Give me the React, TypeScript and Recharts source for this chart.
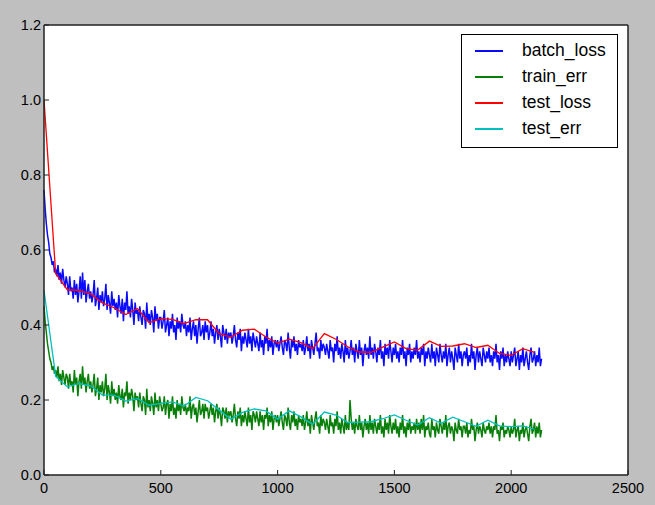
import React from "react";
import { LineChart, Line, XAxis, YAxis, CartesianGrid } from "recharts";

// noisy series are logged every 5 iterations, test series every 50
const batchStep = 5;
const testStep = 50;

const batchLoss = [
  0.76, 0.71, 0.67, 0.64, 0.62, 0.59, 0.58, 0.56, 0.57, 0.54, 0.55, 0.53, 0.56, 0.52, 0.54, 0.51, 0.55, 0.52, 0.5, 0.53,
  0.51, 0.48, 0.53, 0.49, 0.5, 0.47, 0.52, 0.48, 0.51, 0.46, 0.49, 0.53, 0.47, 0.54, 0.48, 0.52, 0.46, 0.49, 0.51, 0.47,
  0.49, 0.46, 0.48, 0.52, 0.45, 0.47, 0.5, 0.44, 0.48, 0.46, 0.49, 0.45, 0.47, 0.51, 0.44, 0.48, 0.46, 0.43, 0.49, 0.45,
  0.47, 0.44, 0.46, 0.42, 0.48, 0.45, 0.43, 0.47, 0.41, 0.46, 0.44, 0.49, 0.43, 0.45, 0.42, 0.47, 0.44, 0.4, 0.46, 0.43,
  0.44, 0.41, 0.45, 0.42, 0.4, 0.44, 0.43, 0.39, 0.46, 0.41, 0.43, 0.4, 0.44, 0.42, 0.38, 0.45, 0.41, 0.43, 0.39, 0.42,
  0.42, 0.39, 0.41, 0.44, 0.38, 0.4, 0.42, 0.37, 0.41, 0.39, 0.43, 0.38, 0.4, 0.36, 0.42, 0.39, 0.41, 0.38, 0.43, 0.4,
  0.39, 0.41, 0.37, 0.4, 0.38, 0.42, 0.36, 0.39, 0.41, 0.37, 0.4, 0.35, 0.39, 0.42, 0.37, 0.38, 0.4, 0.36, 0.41, 0.38,
  0.4, 0.36, 0.38, 0.41, 0.37, 0.39, 0.35, 0.38, 0.4, 0.36, 0.39, 0.37, 0.34, 0.4, 0.38, 0.36, 0.39, 0.35, 0.38, 0.37,
  0.38, 0.35, 0.37, 0.4, 0.36, 0.34, 0.38, 0.36, 0.39, 0.33, 0.37, 0.35, 0.38, 0.36, 0.34, 0.39, 0.35, 0.37, 0.33, 0.38,
  0.36, 0.34, 0.37, 0.35, 0.33, 0.38, 0.34, 0.36, 0.32, 0.37, 0.35, 0.39, 0.33, 0.36, 0.34, 0.37, 0.32, 0.35, 0.36, 0.34,
  0.36, 0.33, 0.35, 0.37, 0.34, 0.32, 0.36, 0.35, 0.33, 0.38, 0.34, 0.31, 0.36, 0.34, 0.37, 0.33, 0.35, 0.32, 0.36, 0.34,
  0.35, 0.33, 0.36, 0.32, 0.34, 0.37, 0.33, 0.35, 0.31, 0.36, 0.34, 0.32, 0.35, 0.38, 0.33, 0.34, 0.31, 0.36, 0.33, 0.35,
  0.34, 0.32, 0.35, 0.33, 0.31, 0.36, 0.33, 0.34, 0.3, 0.35, 0.33, 0.37, 0.32, 0.34, 0.31, 0.35, 0.33, 0.3, 0.36, 0.32,
  0.34, 0.31, 0.33, 0.36, 0.32, 0.34, 0.3, 0.35, 0.33, 0.31, 0.36, 0.32, 0.34, 0.29, 0.33, 0.35, 0.32, 0.34, 0.31, 0.37,
  0.32, 0.34, 0.31, 0.35, 0.33, 0.3, 0.34, 0.32, 0.36, 0.31, 0.33, 0.29, 0.35, 0.32, 0.34, 0.31, 0.36, 0.33, 0.3, 0.34,
  0.32, 0.35, 0.31, 0.33, 0.3, 0.34, 0.32, 0.36, 0.31, 0.33, 0.29, 0.34, 0.32, 0.35, 0.3, 0.33, 0.31, 0.34, 0.32, 0.36,
  0.31, 0.33, 0.3, 0.34, 0.32, 0.35, 0.29, 0.33, 0.31, 0.34, 0.32, 0.3, 0.35, 0.31, 0.33, 0.29, 0.34, 0.32, 0.3, 0.35,
  0.32, 0.3, 0.33, 0.31, 0.35, 0.29, 0.32, 0.34, 0.3, 0.33, 0.31, 0.28, 0.34, 0.32, 0.3, 0.35, 0.31, 0.33, 0.29, 0.32,
  0.33, 0.31, 0.34, 0.29, 0.32, 0.3, 0.35, 0.31, 0.33, 0.28, 0.32, 0.34, 0.3, 0.33, 0.31, 0.29, 0.34, 0.32, 0.3, 0.33,
  0.31, 0.34, 0.3, 0.32, 0.29, 0.33, 0.31, 0.35, 0.3, 0.32, 0.28, 0.33, 0.31, 0.34, 0.29, 0.32, 0.3, 0.33, 0.31, 0.29,
  0.33, 0.3, 0.32, 0.34, 0.29, 0.31, 0.33, 0.28, 0.32, 0.3, 0.34, 0.29, 0.31, 0.33, 0.3, 0.28, 0.32, 0.34, 0.3, 0.31,
  0.33, 0.29, 0.32, 0.3, 0.34, 0.29, 0.31,
];

const trainErr = [
  0.45, 0.41, 0.38, 0.35, 0.33, 0.31, 0.3, 0.28, 0.29, 0.27, 0.28, 0.26, 0.29, 0.25, 0.27, 0.24, 0.28, 0.26, 0.24, 0.27,
  0.26, 0.23, 0.27, 0.24, 0.25, 0.22, 0.28, 0.24, 0.26, 0.21, 0.25, 0.27, 0.23, 0.29, 0.24, 0.26, 0.22, 0.25, 0.27, 0.23,
  0.25, 0.22, 0.24, 0.27, 0.21, 0.23, 0.26, 0.2, 0.24, 0.22, 0.25, 0.21, 0.23, 0.27, 0.2, 0.24, 0.22, 0.19, 0.25, 0.21,
  0.23, 0.2, 0.22, 0.19, 0.24, 0.21, 0.2, 0.23, 0.18, 0.22, 0.21, 0.25, 0.19, 0.22, 0.2, 0.23, 0.21, 0.17, 0.22, 0.2,
  0.21, 0.18, 0.22, 0.19, 0.17, 0.21, 0.2, 0.16, 0.23, 0.18, 0.2, 0.17, 0.21, 0.19, 0.16, 0.22, 0.18, 0.2, 0.17, 0.21,
  0.19, 0.17, 0.18, 0.21, 0.16, 0.19, 0.2, 0.15, 0.19, 0.17, 0.21, 0.16, 0.18, 0.15, 0.2, 0.17, 0.19, 0.16, 0.21, 0.18,
  0.17, 0.19, 0.16, 0.18, 0.17, 0.21, 0.15, 0.18, 0.19, 0.16, 0.18, 0.14, 0.17, 0.2, 0.16, 0.17, 0.19, 0.15, 0.19, 0.17,
  0.18, 0.15, 0.17, 0.19, 0.16, 0.18, 0.14, 0.17, 0.19, 0.15, 0.18, 0.16, 0.13, 0.18, 0.17, 0.15, 0.18, 0.14, 0.17, 0.16,
  0.17, 0.14, 0.16, 0.19, 0.15, 0.13, 0.17, 0.15, 0.18, 0.13, 0.16, 0.14, 0.17, 0.15, 0.13, 0.18, 0.14, 0.16, 0.12, 0.17,
  0.16, 0.14, 0.17, 0.15, 0.13, 0.17, 0.14, 0.16, 0.12, 0.16, 0.15, 0.18, 0.13, 0.16, 0.14, 0.17, 0.12, 0.15, 0.16, 0.14,
  0.16, 0.13, 0.15, 0.17, 0.14, 0.12, 0.16, 0.15, 0.13, 0.18, 0.14, 0.12, 0.16, 0.14, 0.17, 0.13, 0.15, 0.12, 0.16, 0.14,
  0.15, 0.13, 0.16, 0.12, 0.14, 0.17, 0.13, 0.15, 0.11, 0.16, 0.14, 0.12, 0.15, 0.17, 0.13, 0.14, 0.11, 0.16, 0.13, 0.15,
  0.14, 0.12, 0.15, 0.13, 0.11, 0.16, 0.13, 0.14, 0.11, 0.15, 0.13, 0.17, 0.12, 0.14, 0.11, 0.15, 0.13, 0.11, 0.16, 0.12,
  0.14, 0.12, 0.2, 0.15, 0.12, 0.14, 0.11, 0.15, 0.13, 0.12, 0.16, 0.12, 0.14, 0.1, 0.13, 0.15, 0.12, 0.14, 0.11, 0.16,
  0.12, 0.14, 0.11, 0.15, 0.13, 0.11, 0.14, 0.12, 0.16, 0.11, 0.13, 0.1, 0.15, 0.12, 0.14, 0.11, 0.16, 0.13, 0.11, 0.14,
  0.12, 0.15, 0.11, 0.13, 0.1, 0.14, 0.12, 0.16, 0.11, 0.13, 0.1, 0.14, 0.12, 0.15, 0.11, 0.13, 0.12, 0.14, 0.11, 0.15,
  0.12, 0.14, 0.11, 0.15, 0.12, 0.16, 0.1, 0.13, 0.12, 0.14, 0.11, 0.1, 0.15, 0.12, 0.13, 0.1, 0.14, 0.12, 0.11, 0.15,
  0.13, 0.11, 0.14, 0.12, 0.16, 0.1, 0.13, 0.14, 0.11, 0.13, 0.12, 0.09, 0.14, 0.12, 0.11, 0.15, 0.12, 0.13, 0.1, 0.13,
  0.13, 0.11, 0.14, 0.1, 0.12, 0.11, 0.15, 0.12, 0.13, 0.09, 0.12, 0.14, 0.11, 0.13, 0.12, 0.1, 0.14, 0.12, 0.11, 0.13,
  0.12, 0.14, 0.11, 0.13, 0.1, 0.13, 0.12, 0.16, 0.11, 0.12, 0.09, 0.13, 0.12, 0.14, 0.1, 0.12, 0.11, 0.13, 0.12, 0.1,
  0.13, 0.11, 0.12, 0.15, 0.1, 0.12, 0.13, 0.09, 0.12, 0.11, 0.14, 0.1, 0.12, 0.13, 0.11, 0.09, 0.13, 0.15, 0.11, 0.12,
  0.14, 0.1, 0.13, 0.11, 0.14, 0.1, 0.12,
];

const testLoss = [
  1.0, 0.537, 0.494, 0.492, 0.483, 0.459, 0.446, 0.428, 0.444, 0.406,
  0.417, 0.415, 0.404, 0.414, 0.414, 0.377, 0.368, 0.386, 0.389, 0.368,
  0.352, 0.362, 0.353, 0.337, 0.377, 0.362, 0.342, 0.328, 0.327, 0.341,
  0.355, 0.337, 0.333, 0.357, 0.343, 0.344, 0.35, 0.34, 0.346, 0.324,
  0.319, 0.337, 0.327,
];

const testErr = [
  0.492, 0.263, 0.235, 0.244, 0.238, 0.213, 0.213, 0.197, 0.204, 0.186,
  0.191, 0.195, 0.184, 0.207, 0.198, 0.173, 0.149, 0.167, 0.176, 0.171,
  0.149, 0.171, 0.155, 0.135, 0.168, 0.16, 0.14, 0.141, 0.142, 0.15,
  0.16, 0.146, 0.133, 0.153, 0.138, 0.154, 0.142, 0.13, 0.146, 0.131,
  0.129, 0.131, 0.122,
];

const xTicks = [0, 500, 1000, 1500, 2000, 2500];
const yTicks = [0, 0.2, 0.4, 0.6, 0.8, 1.0, 1.2];

const toPoints = (vals: number[], step: number) =>
  vals.map((y, i) => ({ x: i * step, y }));

const series = [
  { name: "batch_loss", color: "#0a0aff", width: 1.5, data: toPoints(batchLoss, batchStep) },
  { name: "train_err", color: "#087f08", width: 1.5, data: toPoints(trainErr, batchStep) },
  { name: "test_loss", color: "#ff0000", width: 1.3, data: toPoints(testLoss, testStep) },
  { name: "test_err", color: "#00bfbf", width: 1.3, data: toPoints(testErr, testStep) },
];

const FONT = "'Liberation Sans', Arial, Helvetica, sans-serif";
const AXIS = "#222";

function BottomTick({ x, y, payload }: any) {
  return (
    <g>
      <line x1={x} y1={y} x2={x} y2={y - 5} stroke={AXIS} strokeWidth={1} />
      <text x={x} y={y + 18} textAnchor="middle" fontSize={14.5} fontFamily={FONT} fill="#000">
        {payload.value}
      </text>
    </g>
  );
}

function LeftTick({ x, y, payload }: any) {
  return (
    <g>
      <line x1={x} y1={y} x2={x + 5} y2={y} stroke={AXIS} strokeWidth={1} />
      <text x={x - 3} y={y + 5} textAnchor="end" fontSize={14.5} fontFamily={FONT} fill="#000">
        {Number(payload.value).toFixed(1)}
      </text>
    </g>
  );
}

function TopTick({ x, y }: any) {
  return <line x1={x} y1={y} x2={x} y2={y + 5} stroke={AXIS} strokeWidth={1} />;
}

function RightTick({ x, y }: any) {
  return <line x1={x} y1={y} x2={x - 5} y2={y} stroke={AXIS} strokeWidth={1} />;
}

function LegendBox() {
  return (
    <div
      style={{
        position: "absolute",
        left: 461,
        top: 34,
        width: 155,
        height: 112,
        border: "1px solid #000",
        background: "#fff",
        fontFamily: FONT,
        fontSize: 17.5,
      }}
    >
      {series.map((s, i) => (
        <div
          key={s.name}
          style={{ position: "absolute", left: 0, top: 4 + i * 26, height: 24, width: 155 }}
        >
          <div
            style={{
              position: "absolute",
              left: 13,
              top: 11,
              width: 28,
              height: 1.5,
              background: s.color,
            }}
          />
          <div style={{ position: "absolute", left: 60, top: 1, lineHeight: "20px" }}>{s.name}</div>
        </div>
      ))}
    </div>
  );
}

export default function App() {
  return (
    <div
      style={{
        position: "absolute",
        left: 0,
        top: 0,
        width: 655,
        height: 505,
        background: "#bfbfbf",
      }}
    >
      <LineChart width={655} height={505} margin={{ top: 0, right: 0, bottom: 0, left: 0 }}>
        <CartesianGrid horizontal={false} vertical={false} fill="#fff" />
        <XAxis
          type="number"
          dataKey="x"
          domain={[0, 2500]}
          ticks={xTicks}
          height={30}
          tickSize={0}
          tickMargin={0}
          tickLine={false}
          tick={<BottomTick />}
          axisLine={{ stroke: AXIS, strokeWidth: 1.5 }}
          interval={0}
        />
        <XAxis
          xAxisId="top"
          orientation="top"
          type="number"
          domain={[0, 2500]}
          ticks={xTicks.slice(1, -1)}
          height={25}
          tickSize={0}
          tickMargin={0}
          tickLine={false}
          tick={<TopTick />}
          axisLine={{ stroke: AXIS, strokeWidth: 1.5 }}
          interval={0}
        />
        <YAxis
          type="number"
          domain={[0, 1.2]}
          ticks={yTicks}
          width={44}
          tickSize={0}
          tickMargin={0}
          tickLine={false}
          tick={<LeftTick />}
          axisLine={{ stroke: AXIS, strokeWidth: 1.5 }}
          interval={0}
        />
        <YAxis
          yAxisId="right"
          orientation="right"
          type="number"
          domain={[0, 1.2]}
          ticks={yTicks.slice(1, -1)}
          width={27}
          tickSize={0}
          tickMargin={0}
          tickLine={false}
          tick={<RightTick />}
          axisLine={{ stroke: AXIS, strokeWidth: 1.5 }}
          interval={0}
        />
        {series.map((s) => (
          <Line
            key={s.name}
            data={s.data}
            dataKey="y"
            name={s.name}
            type="linear"
            stroke={s.color}
            strokeWidth={s.width}
            dot={false}
            activeDot={false}
            isAnimationActive={false}
          />
        ))}
      </LineChart>
      <LegendBox />
    </div>
  );
}
